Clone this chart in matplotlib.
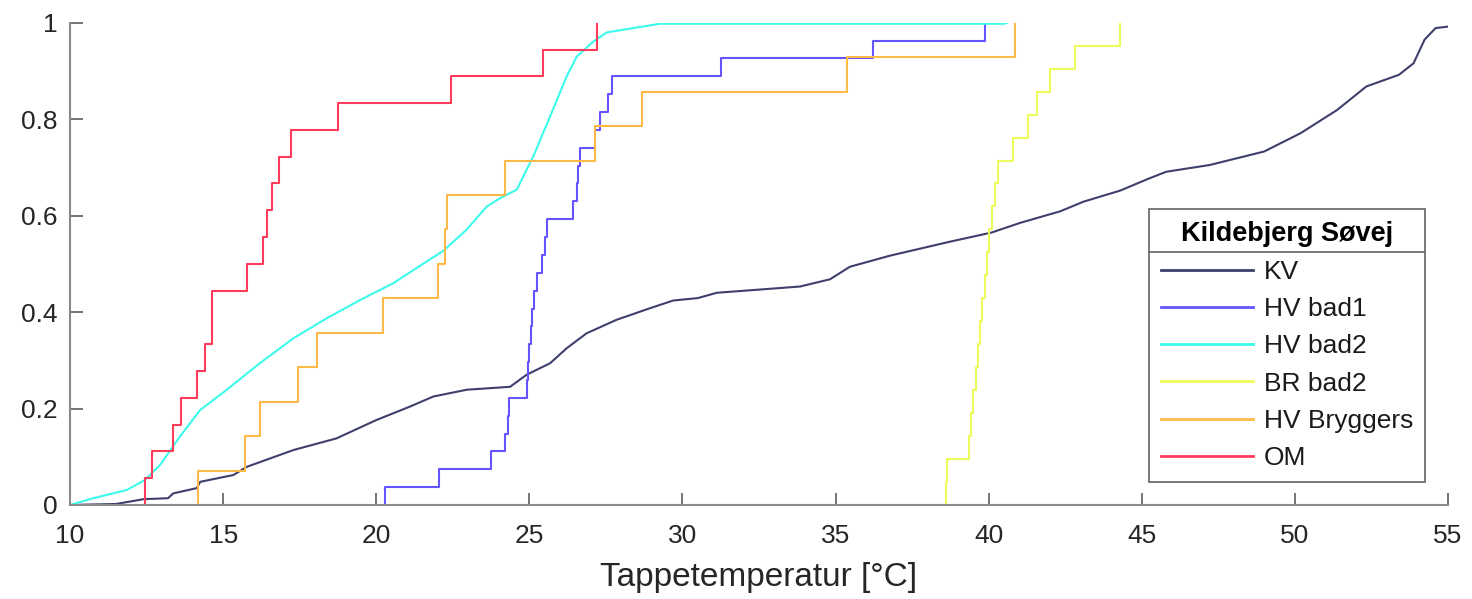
import numpy as np
import matplotlib

matplotlib.use("Agg")
import matplotlib.pyplot as plt
from matplotlib.lines import Line2D

plt.rcParams["font.family"] = ["Liberation Sans", "DejaVu Sans"]

kv_temp = [10.0, 11.5, 12.4, 13.2, 13.37, 14.14, 14.25, 15.33, 15.77, 17.3, 18.7, 20.0,
           21.1, 21.87, 22.96, 24.37, 24.91, 25.68, 26.22, 26.87, 27.85, 28.94, 29.7,
           30.5, 31.12, 33.84, 34.82, 35.47, 36.78, 38.74, 40.1, 41.03, 42.34, 43.1,
           44.3, 45.2, 45.8, 47.22, 49.0, 50.19, 51.38, 52.34, 53.4, 53.88, 54.24,
           54.6, 55.0]
kv_frac = [0.0, 0.002, 0.012, 0.014, 0.024, 0.035, 0.048, 0.062, 0.079, 0.114, 0.138,
           0.176, 0.204, 0.225, 0.239, 0.245, 0.27, 0.294, 0.325, 0.356, 0.384, 0.408,
           0.424, 0.429, 0.44, 0.453, 0.468, 0.494, 0.517, 0.546, 0.565, 0.585, 0.609,
           0.629, 0.652, 0.676, 0.691, 0.705, 0.733, 0.771, 0.819, 0.868, 0.892, 0.916,
           0.965, 0.989, 0.992]

# HV bad2 - also dense enough to read as a curve
hv_bad2_temp = [10.0, 10.76, 11.85, 12.45, 12.94, 13.59, 14.25, 15.12, 16.2, 17.3, 18.38,
                19.47, 20.56, 21.65, 22.19, 22.95, 23.61, 24.04, 24.59, 25.13, 25.68,
                26.22, 26.55, 27.09, 27.53, 28.4, 29.27, 40.5, 40.6]
hv_bad2_frac = [0.0, 0.014, 0.031, 0.052, 0.083, 0.142, 0.197, 0.239, 0.294, 0.346, 0.387,
                0.425, 0.46, 0.505, 0.527, 0.571, 0.619, 0.636, 0.654, 0.723, 0.806,
                0.889, 0.93, 0.961, 0.98, 0.989, 0.998, 0.998, 1.0]

# tap samples for the sparse series (drawn as empirical CDF stairs)
hv_bad1 = [20.3, 22.06, 23.74, 24.2, 24.3, 24.35, 24.91, 24.95, 25.0, 25.05, 25.1, 25.15,
           25.24, 25.4, 25.5, 25.57, 26.41, 26.55, 26.6, 26.65, 27.15, 27.3, 27.57, 27.7,
           31.25, 36.21, 39.88]
br_bad2 = [38.62, 38.64, 39.36, 39.43, 39.5, 39.58, 39.66, 39.73, 39.8, 39.88, 39.95,
           40.02, 40.12, 40.22, 40.31, 40.8, 41.3, 41.57, 42.0, 42.82, 44.29]
hv_bryggers = [14.19, 15.72, 16.2, 17.46, 18.05, 20.23, 22.03, 22.25, 22.3, 24.21, 27.15,
               28.67, 35.36, 40.86]
om = [12.45, 12.67, 13.37, 13.61, 14.14, 14.41, 14.63, 14.65, 15.77, 16.31, 16.44, 16.61,
      16.83, 17.22, 18.76, 22.43, 25.46, 27.2]

colors = {
    "KV": "#3f3f6e",
    "HV bad1": "#6655ff",
    "HV bad2": "#3cfbec",
    "BR bad2": "#ecfc5a",
    "HV Bryggers": "#ffb947",
    "OM": "#ff3b5c",
}


def _ecdf(samples):
    x = np.sort(np.asarray(samples, dtype=float))
    y = np.arange(1, len(x) + 1) / len(x)
    return np.r_[x[0], x], np.r_[0.0, y]


fig = plt.figure(figsize=(14.72, 5.99), dpi=100)
ax = fig.add_axes([0.0476, 0.157, 0.936, 0.805])

lw = 1.5
ax.plot(kv_temp, kv_frac, color=colors["KV"], lw=lw, label="KV")
x, y = _ecdf(hv_bad1)
ax.step(x, y, where="post", color=colors["HV bad1"], lw=lw, label="HV bad1")
ax.plot(hv_bad2_temp, hv_bad2_frac, color=colors["HV bad2"], lw=lw, label="HV bad2")
x, y = _ecdf(br_bad2)
ax.step(x, y, where="post", color=colors["BR bad2"], lw=lw, label="BR bad2")
x, y = _ecdf(hv_bryggers)
ax.step(x, y, where="post", color=colors["HV Bryggers"], lw=lw, label="HV Bryggers")
x, y = _ecdf(om)
ax.step(x, y, where="post", color=colors["OM"], lw=lw, label="OM")

ax.set_xlim(10, 55)
ax.set_ylim(0, 1)
ax.set_xticks(np.arange(10, 56, 5))
ax.set_yticks([0, 0.2, 0.4, 0.6, 0.8, 1])
ax.set_yticklabels(["0", "0.2", "0.4", "0.6", "0.8", "1"])
for side in ("top", "right"):
    ax.spines[side].set_visible(False)
for side in ("left", "bottom"):
    ax.spines[side].set_color("#8a8a8a")
    ax.spines[side].set_linewidth(1.5)
ax.tick_params(direction="in", length=9, width=1.3, color="#6a6a6a",
               labelsize=19, labelcolor="#262626")
ax.tick_params(axis="x", pad=14)
ax.tick_params(axis="y", pad=9)
ax.set_xlabel("Tappetemperatur [°C]", fontsize=24, color="#262626", labelpad=10)

leg = ax.legend(loc="lower right", bbox_to_anchor=(0.9833, 0.048), borderaxespad=0,
                fontsize=19, title="Kildebjerg Søvej",
                title_fontproperties={"weight": "bold", "size": 19.5},
                handlelength=3.5, handletextpad=0.4, labelspacing=0.5, borderpad=0.45,
                fancybox=False, framealpha=1, edgecolor="#6e6e6e")
leg.get_frame().set_linewidth(1.3)
for line in leg.get_lines():
    line.set_linewidth(2.0)
for text in leg.get_texts():
    text.set_color("#1a1a1a")

# separator line under the legend title, like the original
fig.canvas.draw()
frame = leg.get_frame().get_window_extent()
title_box = leg.get_title().get_window_extent()
inv = fig.transFigure.inverted()
x0, _ = inv.transform((frame.x0, 0))
x1, _ = inv.transform((frame.x1, 0))
_, ysep = inv.transform((0, title_box.y0 - 5))
fig.add_artist(Line2D([x0, x1], [ysep, ysep], color="#6e6e6e", lw=1.3))

fig.savefig("out.png", dpi=100)
